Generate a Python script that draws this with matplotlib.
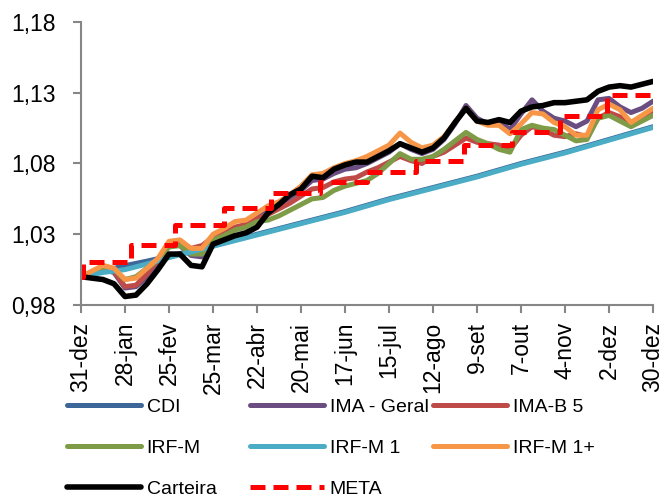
import matplotlib
matplotlib.use("Agg")
import matplotlib.pyplot as plt
from matplotlib import font_manager

# ---------------- data ----------------
# x positions in days since 31-dez (weekly samples)
week_days = list(range(0, 365, 7))

carteira = [1.000, 0.999, 0.998, 0.995, 0.986, 0.987, 0.995, 1.005, 1.016, 1.016,
            1.008, 1.007, 1.023, 1.026, 1.029, 1.031, 1.035, 1.045, 1.051, 1.058,
            1.062, 1.071, 1.070, 1.076, 1.079, 1.081, 1.081, 1.085, 1.089, 1.094,
            1.091, 1.088, 1.091, 1.098, 1.109, 1.119, 1.110, 1.109, 1.111, 1.109,
            1.117, 1.120, 1.121, 1.123, 1.123, 1.124, 1.125, 1.131, 1.134, 1.135,
            1.134, 1.136, 1.138]

irfm_1plus = [1.000, 1.004, 1.008, 1.006, 0.998, 0.999, 1.006, 1.013, 1.025, 1.026,
              1.020, 1.020, 1.030, 1.034, 1.039, 1.040, 1.045, 1.050, 1.053, 1.058,
              1.064, 1.072, 1.073, 1.077, 1.080, 1.082, 1.085, 1.089, 1.093, 1.1015,
              1.095, 1.091, 1.093, 1.099, 1.109, 1.119, 1.110, 1.107, 1.107, 1.101,
              1.108, 1.116, 1.115, 1.109, 1.106, 1.100, 1.100, 1.118, 1.122, 1.118,
              1.109, 1.114, 1.119]

ima_geral = [1.000, 1.002, 1.005, 1.003, 0.992, 0.993, 1.000, 1.010, 1.022, 1.022,
             1.015, 1.014, 1.027, 1.030, 1.034, 1.037, 1.042, 1.047, 1.051, 1.056,
             1.061, 1.068, 1.069, 1.073, 1.076, 1.077, 1.080, 1.084, 1.088, 1.094,
             1.090, 1.087, 1.090, 1.097, 1.108, 1.121, 1.112, 1.108, 1.110, 1.104,
             1.115, 1.125, 1.117, 1.112, 1.110, 1.106, 1.110, 1.125, 1.126, 1.120,
             1.116, 1.119, 1.124]

ima_b5 = [1.000, 1.003, 1.006, 1.004, 0.993, 0.994, 1.002, 1.012, 1.023, 1.024,
          1.020, 1.022, 1.028, 1.031, 1.035, 1.037, 1.041, 1.044, 1.048, 1.052,
          1.057, 1.062, 1.063, 1.067, 1.069, 1.070, 1.074, 1.077, 1.081, 1.085,
          1.082, 1.080, 1.085, 1.088, 1.093, 1.098, 1.095, 1.094, 1.093, 1.090,
          1.100, 1.106, 1.104, 1.100, 1.099, 1.101, 1.099, 1.112, 1.116, 1.113,
          1.109, 1.112, 1.116]

irfm = [1.000, 1.003, 1.006, 1.005, 0.998, 1.000, 1.006, 1.012, 1.021, 1.022,
        1.016, 1.016, 1.026, 1.029, 1.033, 1.035, 1.039, 1.040, 1.043, 1.047,
        1.051, 1.055, 1.056, 1.061, 1.064, 1.066, 1.068, 1.073, 1.080, 1.087,
        1.083, 1.083, 1.085, 1.090, 1.096, 1.102, 1.097, 1.094, 1.090, 1.088,
        1.104, 1.107, 1.105, 1.104, 1.100, 1.096, 1.097, 1.112, 1.114, 1.110,
        1.106, 1.110, 1.114]

# smoother series, sampled every 28 days (+ early detail)
smooth_days = [0, 14, 28, 42, 56, 84, 112, 140, 168, 196, 224, 252, 280, 308, 336, 364]
cdi = [1.000, 1.004, 1.0078, 1.011, 1.0145, 1.022, 1.030, 1.038, 1.046, 1.055,
       1.063, 1.071, 1.080, 1.088, 1.097, 1.106]
irfm_1 = [1.000, 1.003, 1.005, 1.009, 1.0135, 1.0215, 1.0295, 1.0375, 1.0455, 1.0545,
          1.0625, 1.0705, 1.0795, 1.0875, 1.0965, 1.1055]

# META: monthly target levels, starting day of each month
meta_days = [0, 1, 32, 60, 91, 121, 152, 182, 213, 244, 274, 305, 335, 362]
meta = [1.000, 1.0105, 1.0224, 1.0365, 1.0485, 1.059, 1.067, 1.074, 1.082,
        1.093, 1.1025, 1.1135, 1.1285, 1.1285]

tick_days = list(range(0, 365, 28))
tick_labels = ['31-dez', '28-jan', '25-fev', '25-mar', '22-abr', '20-mai', '17-jun',
               '15-jul', '12-ago', '9-set', '7-out', '4-nov', '2-dez', '30-dez']
y_ticks = [0.98, 1.03, 1.08, 1.13, 1.18]
y_labels = ['0,98', '1,03', '1,08', '1,13', '1,18']

# ---------------- style ----------------
names = {f.name for f in font_manager.fontManager.ttflist}
fam = 'Liberation Sans' if 'Liberation Sans' in names else 'DejaVu Sans'
plt.rcParams['font.family'] = [fam, 'DejaVu Sans']

fig = plt.figure(figsize=(6.65, 4.98), dpi=100)
ax = fig.add_axes([81 / 665, 1 - 305 / 498, (653 - 81) / 665, (305 - 22) / 498])

lw = 3.6
common = dict(solid_capstyle='round', solid_joinstyle='round')
h_cdi, = ax.plot(smooth_days, cdi, color='#3D6699', lw=lw, label='CDI', **common)
h_ima, = ax.plot(week_days, ima_geral, color='#6A4E82', lw=lw, label='IMA - Geral', **common)
h_b5, = ax.plot(week_days, ima_b5, color='#BE4B48', lw=lw, label='IMA-B 5', **common)
h_irfm, = ax.plot(week_days, irfm, color='#7E9B48', lw=lw, label='IRF-M', **common)
h_irfm1, = ax.plot(smooth_days, irfm_1, color='#4BACC6', lw=lw, label='IRF-M 1', **common)
h_irfm1p, = ax.plot(week_days, irfm_1plus, color='#F79646', lw=lw, label='IRF-M 1+', **common)
h_cart, = ax.plot(week_days, carteira, color='black', lw=4.0, label='Carteira', **common)
h_meta, = ax.plot(meta_days, meta, color='#FF0000', lw=3.6, ls=(0, (3.0, 1.6)),
                  drawstyle='steps-post', label='META')

ax.set_xlim(0, 364)
ax.set_ylim(0.98, 1.18)
ax.set_xticks(tick_days)
ax.set_xticklabels(tick_labels, rotation=90)
ax.set_yticks(y_ticks)
ax.set_yticklabels(y_labels)

for s in ['top', 'right']:
    ax.spines[s].set_visible(False)
for s in ['left', 'bottom']:
    ax.spines[s].set_color('#868686')
    ax.spines[s].set_linewidth(1.5)
ax.tick_params(axis='both', direction='out', length=6, width=1.5, color='#868686',
               labelsize=16.5, labelcolor='black')
ax.tick_params(axis='y', pad=12)
ax.tick_params(axis='x', pad=6)

# legend: three columns positioned like the original
cols = [([h_cdi, h_irfm, h_cart], 67), ([h_ima, h_irfm1, h_meta], 250),
        ([h_b5, h_irfm1p], 433)]
for handles, xpix in cols:
    leg = fig.legend(handles=handles, labels=[h.get_label() for h in handles],
                     loc='upper left', bbox_to_anchor=(xpix / 665, 1 - 398 / 498),
                     frameon=False, fontsize=14, handlelength=3.8,
                     handletextpad=0.3, labelspacing=1.22, borderpad=0,
                     borderaxespad=0)

fig.savefig('out.png', dpi=100)
